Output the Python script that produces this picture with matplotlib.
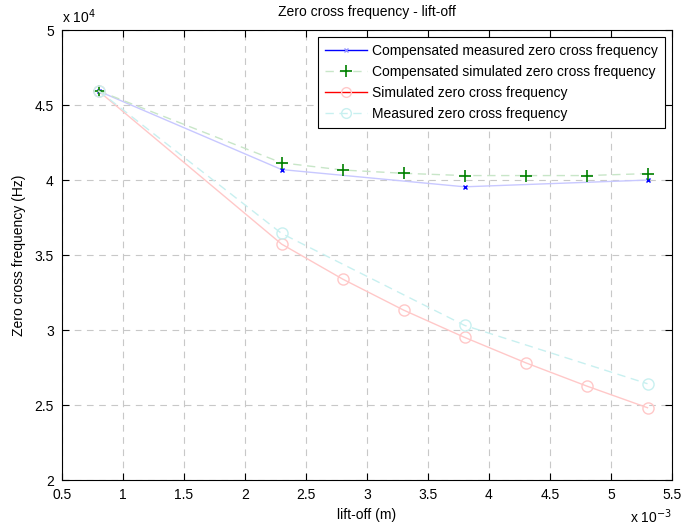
import matplotlib
matplotlib.use("Agg")
import matplotlib.pyplot as plt
from matplotlib.lines import Line2D
from matplotlib.ticker import FuncFormatter, MultipleLocator

plt.rcParams["font.family"] = ["Liberation Sans", "DejaVu Sans"]
plt.rcParams["font.size"] = 10

# lift-off (m) and zero cross frequency (Hz)
lift_off_sim = [0.8e-3, 2.3e-3, 2.8e-3, 3.3e-3, 3.8e-3, 4.3e-3, 4.8e-3, 5.3e-3]
lift_off_meas = [0.8e-3, 2.3e-3, 3.8e-3, 5.3e-3]

comp_meas = [45930, 40700, 39550, 40000]
comp_sim = [45950, 41150, 40670, 40450, 40300, 40300, 40300, 40430]
sim_zc = [45930, 35730, 33400, 31330, 29510, 27820, 26270, 24820]
meas_zc = [45950, 36440, 30310, 26420]

fig = plt.figure(figsize=(6.97, 5.25), dpi=100)
ax = fig.add_axes([0.089, 0.0857, 0.875, 0.857])

ax.plot(lift_off_meas, comp_meas, "-", color="#c8c8ff", lw=1)
ax.plot(lift_off_meas, comp_meas, "x", color="blue", ms=2.5, mew=1)
ax.plot(lift_off_sim, comp_sim, "--", color="#c8e6c8", lw=1, dashes=(6, 4))
ax.plot(lift_off_sim, comp_sim, "+", color="green", ms=9, mew=1.2)
ax.plot(lift_off_sim, sim_zc, "-o", color="#ffc8c8", lw=1, ms=8, mfc="none", mew=1)
ax.plot(lift_off_meas, meas_zc, "--o", color="#c8f0f0", lw=1, ms=8, mfc="none",
        mew=1, dashes=(6, 4))

ax.set_xlim(0.5e-3, 5.5e-3)
ax.set_ylim(20000, 50000)
ax.xaxis.set_major_locator(MultipleLocator(0.5e-3))
ax.yaxis.set_major_locator(MultipleLocator(5000))
ax.xaxis.set_major_formatter(FuncFormatter(lambda v, p: "%g" % round(v * 1e3, 2)))
ax.yaxis.set_major_formatter(FuncFormatter(lambda v, p: "%g" % round(v / 1e4, 2)))
ax.tick_params(direction="in", top=True, right=True, length=5, labelsize=10)
ax.tick_params(axis="x", pad=6)
ax.tick_params(axis="y", pad=6)
ax.grid(True, color="#c8c8c8", linestyle=(0, (6, 5)), lw=0.8)

ax.set_title("Zero cross frequency - lift-off", fontsize=10, pad=10)
ax.set_xlabel("lift-off (m)", fontsize=10, labelpad=4)
ax.set_ylabel("Zero cross frequency (Hz)", fontsize=10, labelpad=6)

ax.text(0, 1.008, r"x 10$^{4}$", transform=ax.transAxes, ha="left", va="bottom")
ax.text(1.0, -0.06, r"x 10$^{-3}$", transform=ax.transAxes, ha="right", va="top")

handles = [
    Line2D([], [], color="blue", lw=1, marker="x", ms=2.5, mec="#9090ff"),
    Line2D([], [], color="#c8e6c8", lw=1, dashes=(6, 4), marker="+", ms=9,
           mec="green", mew=1.2),
    Line2D([], [], color="red", lw=1, marker="o", ms=7, mfc="none", mec="#ffc8c8"),
    Line2D([], [], color="#c8f0f0", lw=1, dashes=(6, 4), marker="o", ms=7,
           mfc="none", mec="#c8f0f0"),
]
labels = ["Compensated measured zero cross frequency",
          "Compensated simulated zero cross frequency",
          "Simulated zero cross frequency",
          "Measured zero cross frequency"]
leg = ax.legend(handles, labels, loc="upper right", fancybox=False, framealpha=1,
                edgecolor="black", fontsize=10, handlelength=3, handletextpad=0.4,
                borderpad=0.5, borderaxespad=0.5, labelspacing=0.5)
leg.get_frame().set_linewidth(0.8)

fig.savefig("out.png", dpi=100)
